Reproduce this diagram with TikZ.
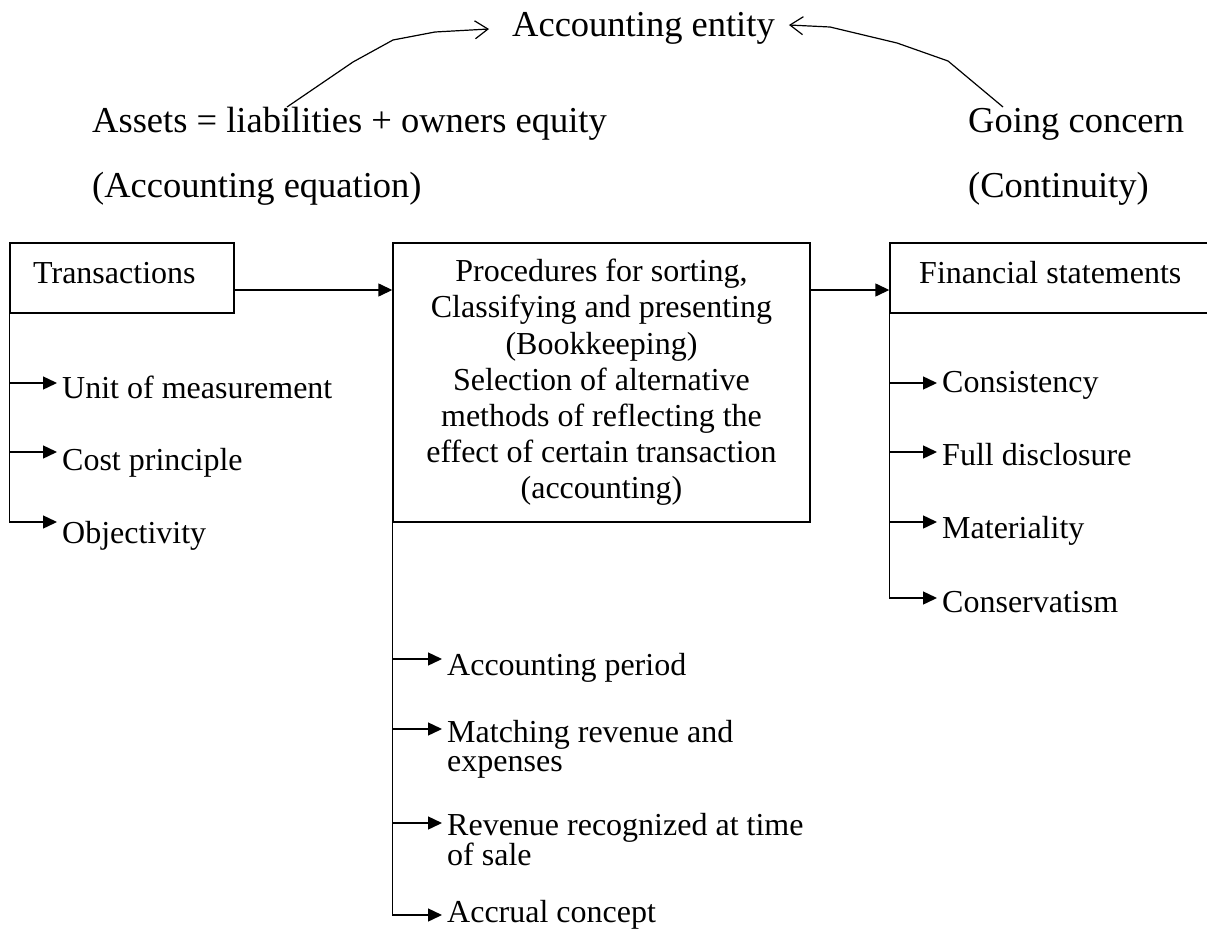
\documentclass[tikz,border=0pt]{standalone}
\usepackage{fontspec}
\setmainfont{Liberation Serif}
\usetikzlibrary{arrows.meta}
\begin{document}
\begin{tikzpicture}[x=1pt,y=-1pt,
  big/.style={font=\fontsize{36.5}{42}\selectfont, inner sep=0pt, anchor=base west},
  txt/.style={font=\fontsize{32}{29}\selectfont, inner sep=0pt, anchor=base west},
  twoline/.style={txt, text width=380pt, align=flush left},
  box/.style={draw, line width=1.4pt, inner sep=0pt},
  wire/.style={line width=1.4pt},
  arr/.style={wire, -{Triangle[length=14pt,width=13pt]}},
  link/.style={line width=1.2pt, line join=round,
    -{Straight Barb[length=13pt,width=18pt,line width=1.2pt]}},
]
\useasboundingbox (0,0) rectangle (1207,931);
\fill[white] (0,0) rectangle (1207,931);

% concepts at the top
\node[big] (ent)    at (512,37)  {Accounting entity};
\node[big] (assets) at (92,133)  {Assets = liabilities + owners equity};
\node[big] (eqn)    at (92,197)  {(Accounting equation)};
\node[big] (going)  at (968,133) {Going concern};
\node[big] (cont)   at (968,197) {(Continuity)};

\coordinate (a0) at ([xshift=195pt,yshift=26pt]assets.base west);
\coordinate (e0) at ([xshift=-23pt,yshift=8pt]ent.base west);
\draw[link] (a0) -- (353,62) -- (393,40) -- (435,32) -- (e0);
\coordinate (g0) at ([xshift=35pt,yshift=26pt]going.base west);
\coordinate (e1) at ([xshift=14pt,yshift=12pt]ent.base east);
\draw[link] (g0) -- (948,61) -- (897,43) -- (830,27) -- (e1);

% the three stages
\node[box, minimum width=224pt, minimum height=70pt] (trans) at (122,278) {};
\node[txt] (transt) at (33,283) {Transactions};

\node[box, minimum width=417pt, minimum height=279pt, align=center,
      font=\fontsize{32}{36.2}\selectfont] (proc) at (601.5,382.5)
  {Procedures for sorting,\\Classifying and presenting\\(Bookkeeping)\\
   Selection of alternative\\methods of reflecting the\\
   effect of certain transaction\\(accounting)};

\node[box, minimum width=322pt, minimum height=70pt] (fin) at (1051,278) {};
\node[txt] (fint) at (919,283) {Financial statements};

\coordinate (m1) at ([yshift=-12pt]trans.east);
\draw[arr] (m1) -- (m1 -| proc.west);
\draw[arr] (m1 -| proc.east) -- (m1 -| fin.west);

% principles of the transactions
\node[txt] (unit) at (62,398) {Unit of measurement};
\node[txt] (cost) at (62,470) {Cost principle};
\node[txt] (objv) at (62,543) {Objectivity};
\coordinate (t1) at (57,383);
\coordinate (t2) at (57,452);
\coordinate (t3) at (57,522);
\draw[wire] (trans.south west) -- (t3 -| trans.west);
\draw[arr] (t1 -| trans.west) -- (t1);
\draw[arr] (t2 -| trans.west) -- (t2);
\draw[arr] (t3 -| trans.west) -- (t3);

% principles of the procedures
\node[txt] (aper)  at (447,675) {Accounting period};
\node[twoline] (match) at (447,742) {Matching revenue and\\expenses};
\node[twoline] (rev)   at (447,835) {Revenue recognized at time\\of sale};
\node[txt] (accr)  at (447,922) {Accrual concept};
\coordinate (p1) at (442,659);
\coordinate (p2) at (442,729);
\coordinate (p3) at (442,823);
\coordinate (p4) at (442,915);
\draw[wire] (proc.south west) -- (p4 -| proc.west);
\draw[arr] (p1 -| proc.west) -- (p1);
\draw[arr] (p2 -| proc.west) -- (p2);
\draw[arr] (p3 -| proc.west) -- (p3);
\draw[arr] (p4 -| proc.west) -- (p4);

% principles of the statements
\node[txt] (cons) at (942,392) {Consistency};
\node[txt] (disc) at (942,465) {Full disclosure};
\node[txt] (matl) at (942,538) {Materiality};
\node[txt] (cnsv) at (942,612) {Conservatism};
\coordinate (f1) at (937,383);
\coordinate (f2) at (937,452);
\coordinate (f3) at (937,522);
\coordinate (f4) at (937,598);
\draw[wire] (fin.south west) -- (f4 -| fin.west);
\draw[arr] (f1 -| fin.west) -- (f1);
\draw[arr] (f2 -| fin.west) -- (f2);
\draw[arr] (f3 -| fin.west) -- (f3);
\draw[arr] (f4 -| fin.west) -- (f4);
\end{tikzpicture}
\end{document}
